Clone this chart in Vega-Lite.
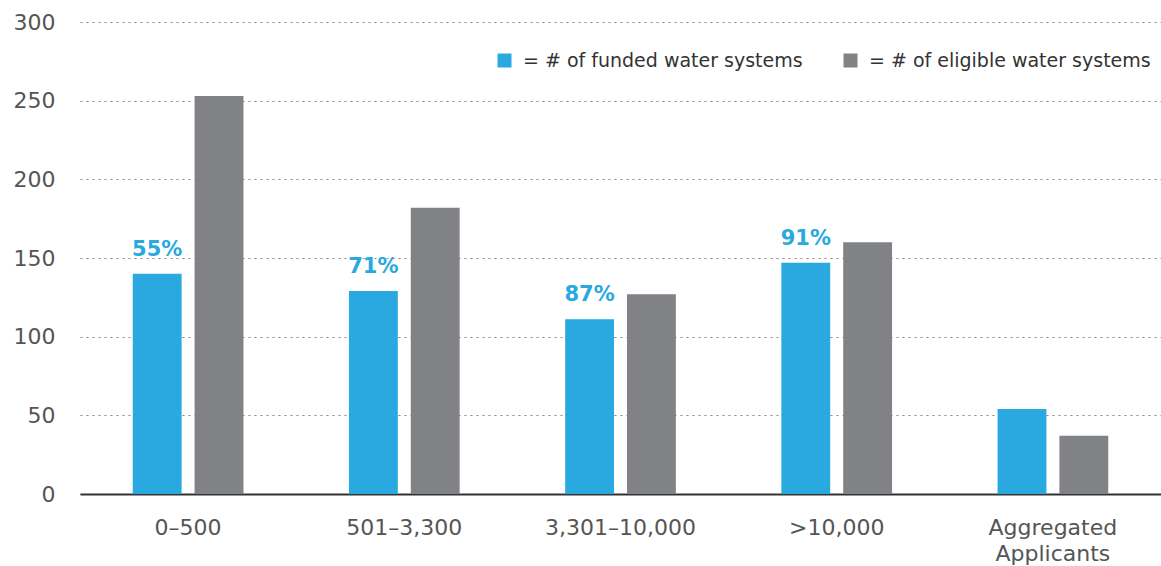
{
  "$schema": "https://vega.github.io/schema/vega-lite/v6.json",
  "width": 1081,
  "height": 472,
  "autosize": "none",
  "padding": {"left": 80, "top": 22, "right": 0, "bottom": 72},
  "background": "white",
  "config": {
    "view": {"stroke": null},
    "font": "DejaVu Sans"
  },
  "data": {
    "values": [
      {"size": "0–500", "series": "= # of funded water systems", "value": 140, "pct": "55%"},
      {"size": "0–500", "series": "= # of eligible water systems", "value": 253, "pct": ""},
      {"size": "501–3,300", "series": "= # of funded water systems", "value": 129, "pct": "71%"},
      {"size": "501–3,300", "series": "= # of eligible water systems", "value": 182, "pct": ""},
      {"size": "3,301–10,000", "series": "= # of funded water systems", "value": 111, "pct": "87%"},
      {"size": "3,301–10,000", "series": "= # of eligible water systems", "value": 127, "pct": ""},
      {"size": ">10,000", "series": "= # of funded water systems", "value": 147, "pct": "91%"},
      {"size": ">10,000", "series": "= # of eligible water systems", "value": 160, "pct": ""},
      {"size": "Aggregated Applicants", "series": "= # of funded water systems", "value": 54, "pct": ""},
      {"size": "Aggregated Applicants", "series": "= # of eligible water systems", "value": 37, "pct": ""}
    ]
  },
  "encoding": {
    "x": {
      "field": "size",
      "type": "nominal",
      "sort": null,
      "scale": {"paddingInner": 0.488, "paddingOuter": 0.244},
      "axis": {
        "title": null,
        "labelAngle": 0,
        "labelFontSize": 22,
        "labelColor": "#555555",
        "labelPadding": 33,
        "labelBaseline": "middle",
        "labelLineHeight": 26,
        "tickSize": 0,
        "domainColor": "#333333",
        "domainWidth": 2,
        "labelExpr": "datum.value == 'Aggregated Applicants' ? ['Aggregated', 'Applicants'] : datum.value"
      }
    },
    "xOffset": {
      "field": "series",
      "type": "nominal",
      "sort": ["= # of funded water systems", "= # of eligible water systems"],
      "scale": {"paddingInner": 0.21, "paddingOuter": 0}
    },
    "y": {
      "field": "value",
      "type": "quantitative",
      "scale": {"domain": [0, 300]},
      "axis": {
        "title": null,
        "values": [0, 50, 100, 150, 200, 250, 300],
        "labelFontSize": 22,
        "labelColor": "#555555",
        "labelPadding": 25,
        "tickSize": 0,
        "domain": false,
        "gridColor": "#888888",
        "gridDash": [2, 4],
        "gridWidth": 1.2
      }
    }
  },
  "layer": [
    {
      "mark": {"type": "bar"},
      "encoding": {
        "color": {
          "field": "series",
          "type": "nominal",
          "sort": ["= # of funded water systems", "= # of eligible water systems"],
          "scale": {
            "domain": ["= # of funded water systems", "= # of eligible water systems"],
            "range": ["#29a9e0", "#808285"]
          },
          "legend": {
            "title": null,
            "orient": "none",
            "legendX": 415,
            "legendY": 29,
            "direction": "horizontal",
            "gridAlign": "none",
            "padding": 0,
            "symbolType": "square",
            "symbolSize": 196,
            "symbolStrokeWidth": 0,
            "labelFontSize": 19,
            "labelColor": "#333333",
            "labelOffset": 9,
            "columnPadding": 38,
            "labelLimit": 400
          }
        }
      }
    },
    {
      "mark": {
        "type": "text",
        "baseline": "bottom",
        "dy": -14,
        "fontSize": 21,
        "fontWeight": "bold",
        "color": "#29a9e0"
      },
      "encoding": {
        "text": {"field": "pct"}
      }
    }
  ]
}
